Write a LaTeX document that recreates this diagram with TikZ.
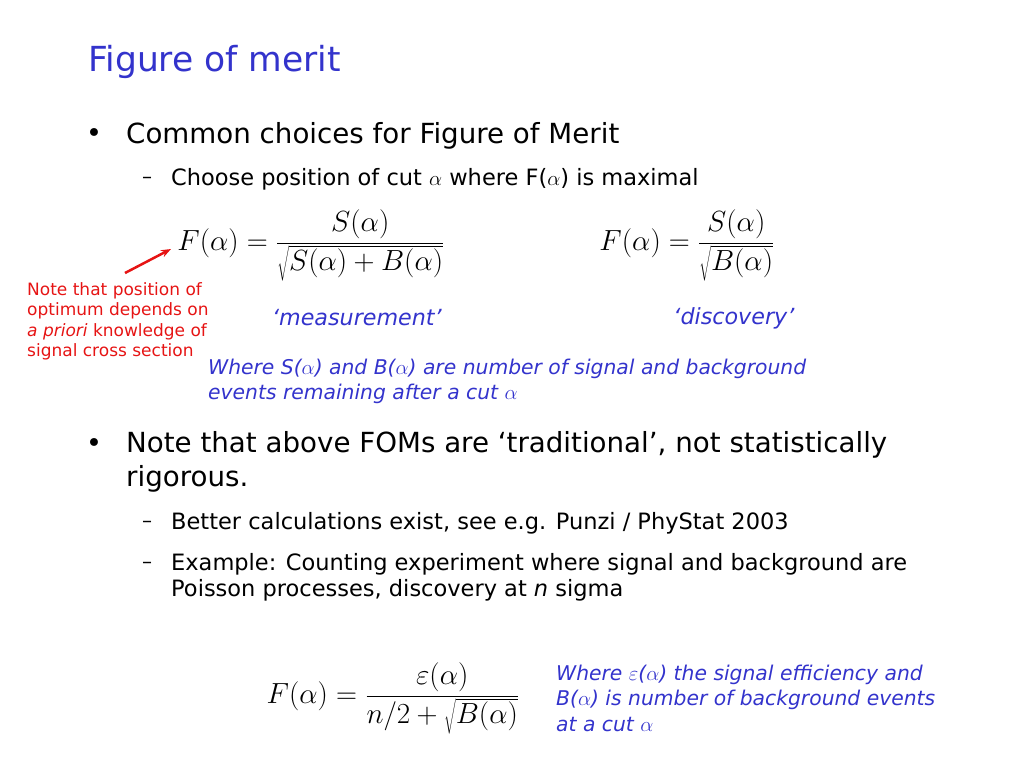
\documentclass[tikz,border=0pt]{standalone}
\usepackage{fontspec}
\setmainfont{DejaVu Sans}
\usetikzlibrary{arrows.meta}
\definecolor{ttl}{RGB}{51,51,204}
\definecolor{redn}{RGB}{230,20,20}
\tikzset{
 tx/.style={anchor=west,inner sep=0pt,font=\fontsize{#1}{#1}\selectfont},
 fm/.style={inner sep=0pt,font=\fontsize{#1}{#1}\selectfont,scale=1.17,transform shape},
}
\begin{document}
\begin{tikzpicture}[x=1pt,y=-1pt]
\useasboundingbox (0,0) rectangle (1024,768);
\node[tx=34.5,text=ttl] (title) at (88,62) {Figure of merit};
\node[tx=27] (b1) at (86,136) {•};
\node[tx=27.7] (t1) at (126,136) {Common choices for Figure of Merit};
\node[tx=20] (d1) at (142,180) {–};
\node[tx=22.5] (t2) at (171,179) {Choose position of cut $\alpha$ where F($\alpha$) is maximal};
\node[fm=26] (f1) at (311,245) {$\displaystyle F(\alpha)=\frac{S(\alpha)}{\sqrt{S(\alpha)+B(\alpha)}}$};
\node[fm=26] (f2) at (687,245) {$\displaystyle F(\alpha)=\frac{S(\alpha)}{\sqrt{B(\alpha)}}$};
\coordinate (as) at (125,273);
\coordinate (ae) at (171,249);
\draw[redn,line width=2.5pt,-{Stealth[length=10pt]}] (as) -- (ae);
\node[tx=17,text=redn,align=left,anchor=north west] (note) at (27,282) {Note that position of\\[3.5pt]optimum depends on\\[3.5pt]\textit{a priori} knowledge of\\[3.5pt]signal cross section};
\node[fm=19] (m) at (357,318) {\color{ttl}\textit{‘measurement’}};
\node[fm=19] (dsc) at (734,318) {\color{ttl}\textit{‘discovery’}};
\node[tx=20.3,text=ttl,align=left,anchor=north west] (w1) at (208,359) {\textit{Where S($\alpha$) and B($\alpha$) are number of signal and background}\\[5pt]\textit{events remaining after a cut $\alpha$}};
\node[tx=27] (b2) at (86,446) {•};
\node[tx=27.7,align=left,anchor=north west] (t3) at (126,431) {Note that above FOMs are ‘traditional’, not statistically\\[7pt]rigorous.};
\node[tx=20] (d2) at (142,524) {–};
\node[tx=22.5] (t4) at (171,523) {Better calculations exist, see e.g. Punzi / PhyStat 2003};
\node[tx=20] (d3) at (142,565) {–};
\node[tx=22.5,align=left,anchor=north west] (t5) at (171,553) {Example: Counting experiment where signal and background are\\[4pt]Poisson processes, discovery at \textit{n} sigma};
\node[fm=26] (f3) at (393,698) {$\displaystyle F(\alpha)=\frac{\varepsilon(\alpha)}{n/2+\sqrt{B(\alpha)}}$};
\node[tx=20.3,text=ttl,align=left,anchor=north west] (w2) at (556,665) {\textit{Where $\varepsilon$($\alpha$) the signal efficiency and}\\[5pt]\textit{B($\alpha$) is number of background events}\\[5pt]\textit{at a cut $\alpha$}};
\end{tikzpicture}
\end{document}
